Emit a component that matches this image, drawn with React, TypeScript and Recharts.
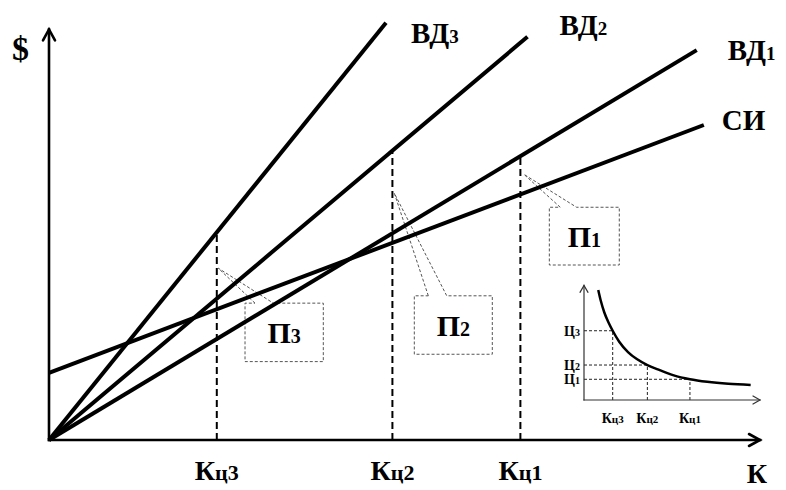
import React from 'react';
import { LineChart, Line, XAxis, YAxis, ReferenceLine, ReferenceDot } from 'recharts';

const SERIF = "'Liberation Serif', 'DejaVu Serif', 'Times New Roman', serif";

// ---- main diagram: revenue lines ВД and total cost СИ against volume К ----
const revenue3 = [{ k: 0, v: 0 }, { k: 4.74, v: 11.92 }];
const revenue2 = [{ k: 0, v: 0 }, { k: 6.73, v: 11.52 }];
const revenue1 = [{ k: 0, v: 0 }, { k: 9.11, v: 11.14 }];
const totalCost = [{ k: 0, v: 1.92 }, { k: 9.21, v: 9.0 }];
const seriesNames = ['ВД3', 'ВД2', 'ВД1', 'СИ'];

// volumes Кц and the revenue reached at each of them
const kcNames = ['Кц3', 'Кц2', 'Кц1'];
const kcVolume = [2.36, 4.83, 6.63];
const kcRevenue = [5.91, 8.24, 8.07];

// profit callouts П: pointer on the Кц line, box edges, notch on the box top
const profitNames = ['П3', 'П2', 'П1'];
const profitTip = [{ k: 2.38, v: 4.91 }, { k: 4.857, v: 7.05 }, { k: 6.68, v: 7.59 }];
const profitLeft = [2.757, 5.138, 7.037];
const profitRight = [3.858, 6.235, 8.021];
const profitTop = [3.91, 4.12, 6.65];
const profitBottom = [2.24, 2.45, 5.0];
const profitNotchL = [2.897, 5.335, 7.19];
const profitNotchR = [3.155, 5.594, 7.42];

const xAxisEnd = 10;
const yAxisEnd = 11.73;

// ---- inset: price Ц against volume Кц ----
const insetK = [0.81, 0.95, 1.15, 1.4, 1.63, 2.0, 2.5, 3.0, 3.6, 4.3, 5.1, 6.02, 7.0, 8.2, 9.47];
const insetP = [9.4, 8.5, 7.5, 6.6, 5.92, 4.98, 4.1, 3.5, 2.99, 2.55, 2.1, 1.77, 1.55, 1.38, 1.28];
const insetKcNames = ['Кц3', 'Кц2', 'Кц1'];
const insetKc = [1.63, 3.6, 6.02];
const insetCNames = ['Ц3', 'Ц2', 'Ц1'];
const insetC = [5.92, 2.99, 1.77];
const insetXEnd = 10;
const insetYEnd = 9.8;

// text with the first `lead` characters large and the rest smaller
function Lbl({ x, y, name, big, small, lead, anchor = 'start' }: any) {
  return (
    <text x={x} y={y} textAnchor={anchor} style={{ fontFamily: SERIF, fontWeight: 700 }} fill="#000">
      <tspan fontSize={big}>{name.slice(0, lead)}</tspan>
      {name.length > lead && <tspan fontSize={small}>{name.slice(lead)}</tspan>}
    </text>
  );
}

// axis line ending in an open chevron
const arrowShape = (head: number, half: number, width: number, color: string, extra?: (x: number, y: number) => React.ReactNode) =>
  (p: any) => {
    const { x1, y1, x2, y2 } = p;
    const len = Math.hypot(x2 - x1, y2 - y1) || 1;
    const ux = (x2 - x1) / len;
    const uy = (y2 - y1) / len;
    const bx = x2 - ux * head;
    const by = y2 - uy * head;
    const nx = -uy;
    const ny = ux;
    const pts = `${bx + nx * half},${by + ny * half} ${x2},${y2} ${bx - nx * half},${by - ny * half}`;
    return (
      <g>
        <line x1={x1} y1={y1} x2={x2} y2={y2} stroke={color} strokeWidth={width} strokeLinecap="square" />
        <polyline points={pts} fill="none" stroke={color} strokeWidth={width} strokeLinecap="round" strokeLinejoin="miter" />
        {extra && extra(x2, y2)}
      </g>
    );
  };

// vertical dashed Кц line with its label under the axis
const kcShape = (name: string) => (p: any) => {
  const x = p.x1;
  const yb = Math.max(p.y1, p.y2);
  const yt = Math.min(p.y1, p.y2);
  return (
    <g>
      <line x1={x} y1={yb} x2={x} y2={yt} stroke="#000" strokeWidth={2} strokeDasharray="7 4" />
      <Lbl x={x} y={yb + 40} name={name} big={28} small={22} lead={1} anchor="middle" />
    </g>
  );
};

const insetVShape = (name: string) => (p: any) => {
  const x = p.x1;
  const yb = Math.max(p.y1, p.y2);
  const yt = Math.min(p.y1, p.y2);
  return (
    <g>
      <line x1={x} y1={yb} x2={x} y2={yt} stroke="#222" strokeWidth={1} strokeDasharray="3 2" />
      <Lbl x={x} y={yb + 23} name={name} big={14} small={11} lead={1} anchor="middle" />
    </g>
  );
};

const insetHShape = (name: string) => (p: any) => {
  const xl = Math.min(p.x1, p.x2);
  const xr = Math.max(p.x1, p.x2);
  return (
    <g>
      <line x1={xl} y1={p.y1} x2={xr} y2={p.y1} stroke="#222" strokeWidth={1} strokeDasharray="3 2" />
      <Lbl x={xl - 4} y={p.y1 + 5} name={name} big={14} small={10} lead={1} anchor="end" />
    </g>
  );
};

const endLabels = [
  { dx: 25, dy: 20 },
  { dx: 32, dy: -2 },
  { dx: 31, dy: 10 },
  { dx: 18, dy: 5 },
];

export default function App() {
  const series = [revenue3, revenue2, revenue1, totalCost];

  const callouts = profitNames.map((_, i) => [
    { k: profitNotchL[i], v: profitTop[i] },
    profitTip[i],
    { k: profitNotchR[i], v: profitTop[i] },
    { k: profitRight[i], v: profitTop[i] },
    { k: profitRight[i], v: profitBottom[i] },
    { k: profitLeft[i], v: profitBottom[i] },
    { k: profitLeft[i], v: profitTop[i] },
    { k: profitNotchL[i], v: profitTop[i] },
  ]);

  const curve = insetK.map((k, i) => ({ k, p: insetP[i] }));

  return (
    <div style={{ position: 'absolute', left: 0, top: 0, width: 786, height: 490, background: '#fff' }}>
      <LineChart width={786} height={490} margin={{ top: 20, right: 26, bottom: 50, left: 49 }}>
        <XAxis type="number" dataKey="k" domain={[0, 10]} hide />
        <YAxis type="number" dataKey="v" domain={[0, 12]} hide />

        {callouts.map((pts, i) => (
          <Line
            key={'c' + i}
            data={pts}
            dataKey="v"
            stroke="#555"
            strokeWidth={1}
            strokeDasharray="3 2"
            dot={false}
            activeDot={false}
            isAnimationActive={false}
          />
        ))}
        {profitNames.map((name, i) => (
          <ReferenceDot
            key={'pl' + i}
            x={(profitLeft[i] + profitRight[i]) / 2}
            y={(profitTop[i] + profitBottom[i]) / 2}
            ifOverflow="visible"
            shape={(p: any) => <Lbl x={p.cx} y={p.cy + 11} name={name} big={30} small={20} lead={1} anchor="middle" />}
          />
        ))}

        {kcNames.map((name, i) => (
          <ReferenceLine
            key={'kc' + i}
            segment={[{ x: kcVolume[i], y: 0 }, { x: kcVolume[i], y: kcRevenue[i] }]}
            shape={kcShape(name)}
          />
        ))}

        {series.map((d, i) => (
          <Line
            key={seriesNames[i]}
            data={d}
            dataKey="v"
            stroke="#000"
            strokeWidth={4}
            dot={false}
            activeDot={false}
            isAnimationActive={false}
          />
        ))}
        {series.map((d, i) => (
          <ReferenceDot
            key={'el' + i}
            x={d[d.length - 1].k}
            y={d[d.length - 1].v}
            ifOverflow="visible"
            shape={(p: any) => (
              <Lbl
                x={p.cx + endLabels[i].dx}
                y={p.cy + endLabels[i].dy}
                name={seriesNames[i]}
                big={29}
                small={19}
                lead={2}
              />
            )}
          />
        ))}

        <ReferenceLine
          segment={[{ x: 0, y: 0 }, { x: 0, y: yAxisEnd }]}
          shape={arrowShape(11, 6, 2.6, '#000', (x, y) => (
            <text x={x - 37} y={y + 31} style={{ fontFamily: SERIF, fontWeight: 700 }} fontSize={34} fill="#000">$</text>
          ))}
        />
        <ReferenceLine
          segment={[{ x: 0, y: 0 }, { x: xAxisEnd, y: 0 }]}
          shape={arrowShape(11, 6, 2.6, '#000', (x, y) => (
            <text x={x - 3} y={y + 43} textAnchor="middle" style={{ fontFamily: SERIF, fontWeight: 700 }} fontSize={28} fill="#000">К</text>
          ))}
        />
      </LineChart>

      <div style={{ position: 'absolute', left: 540, top: 275 }}>
        <LineChart width={230} height={160} margin={{ top: 8, right: 10, bottom: 35, left: 44 }}>
          <XAxis type="number" dataKey="k" domain={[0, 10]} hide />
          <YAxis type="number" dataKey="p" domain={[0, 10]} hide />
          {insetCNames.map((name, i) => (
            <ReferenceLine
              key={'h' + i}
              segment={[{ x: 0, y: insetC[i] }, { x: insetKc[i], y: insetC[i] }]}
              shape={insetHShape(name)}
            />
          ))}
          {insetKcNames.map((name, i) => (
            <ReferenceLine
              key={'v' + i}
              segment={[{ x: insetKc[i], y: 0 }, { x: insetKc[i], y: insetC[i] }]}
              shape={insetVShape(name)}
            />
          ))}
          <Line
            data={curve}
            dataKey="p"
            type="monotone"
            stroke="#000"
            strokeWidth={2.5}
            dot={false}
            activeDot={false}
            isAnimationActive={false}
          />
          <ReferenceLine segment={[{ x: 0, y: 0 }, { x: 0, y: insetYEnd }]} shape={arrowShape(7, 4, 1.2, '#333')} />
          <ReferenceLine segment={[{ x: 0, y: 0 }, { x: insetXEnd, y: 0 }]} shape={arrowShape(7, 4, 1.2, '#333')} />
        </LineChart>
      </div>
    </div>
  );
}
